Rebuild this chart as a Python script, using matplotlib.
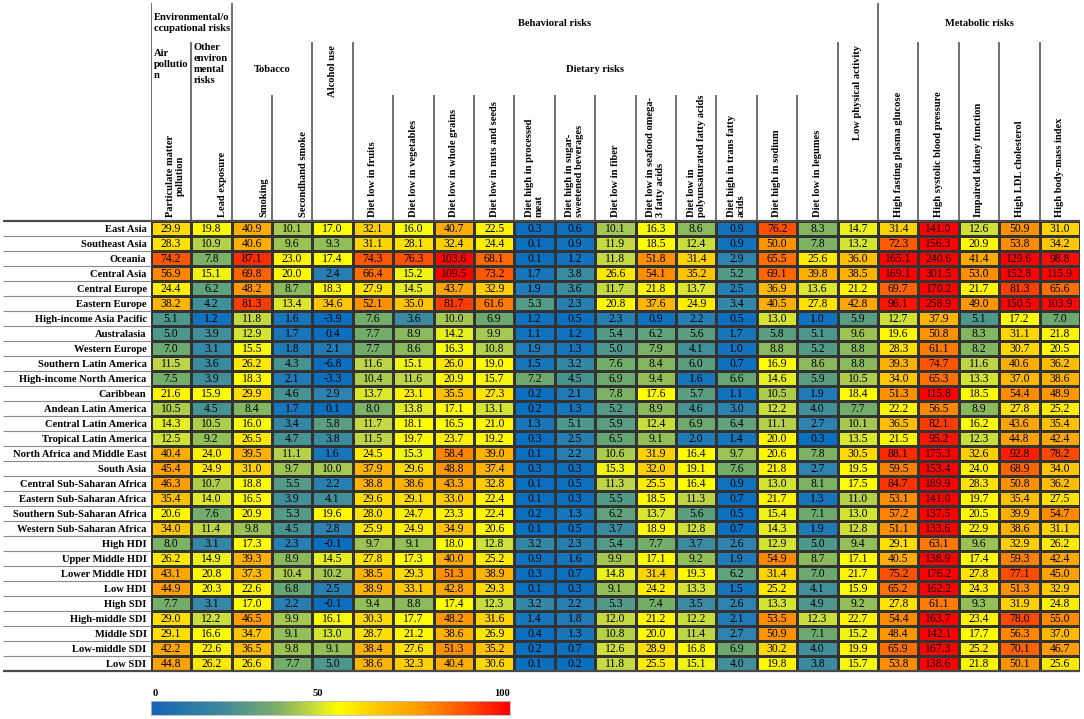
import numpy as np
import matplotlib
matplotlib.use("Agg")
import matplotlib.pyplot as plt
from matplotlib.colors import LinearSegmentedColormap, Normalize

plt.rcParams['font.family'] = ['Liberation Serif', 'DejaVu Serif']

# ---- data -------------------------------------------------------------
regions = [
    "East Asia", "Southeast Asia", "Oceania", "Central Asia", "Central Europe",
    "Eastern Europe", "High-income Asia Pacific", "Australasia", "Western Europe",
    "Southern Latin America", "High-income North America", "Caribbean",
    "Andean Latin America", "Central Latin America", "Tropical Latin America",
    "North Africa and Middle East", "South Asia", "Central Sub-Saharan Africa",
    "Eastern Sub-Saharan Africa", "Southern Sub-Saharan Africa",
    "Western Sub-Saharan Africa", "High HDI", "Upper Middle HDI", "Lower Middle HDI",
    "Low HDI", "High SDI", "High-middle SDI", "Middle SDI", "Low-middle SDI", "Low SDI",
]

risks = [
    "Particulate matter\npollution", "Lead exposure", "Smoking", "Secondhand smoke",
    "", "Diet low in fruits", "Diet low in vegetables", "Diet low in whole grains",
    "Diet low in nuts and seeds", "Diet high in processed\nmeat",
    "Diet high in sugar-\nsweetened beverages", "Diet low in fiber",
    "Diet low in seafood omega-\n3 fatty acids", "Diet low in\npolyunsaturated fatty acids",
    "Diet high in trans fatty\nacids", "Diet high in sodium", "Diet low in legumes", "",
    "High fasting plasma glucose", "High systolic blood pressure",
    "Impaired kidney function", "High LDL cholesterol", "High body-mass index",
]

values = [
    [29.9, 19.8, 40.9, 10.1, 17.0, 32.1, 16.0, 40.7, 22.5, 0.3, 0.6, 10.1, 16.3, 8.6, 0.9, 76.2, 8.3, 14.7, 31.4, 141.0, 12.6, 50.9, 31.0],
    [28.3, 10.9, 40.6, 9.6, 9.3, 31.1, 28.1, 32.4, 24.4, 0.1, 0.9, 11.9, 18.5, 12.4, 0.9, 50.0, 7.8, 13.2, 72.3, 156.3, 20.9, 53.8, 34.2],
    [74.2, 7.8, 87.1, 23.0, 17.4, 74.3, 76.3, 103.6, 68.1, 0.1, 1.2, 11.8, 51.8, 31.4, 2.9, 65.5, 25.6, 36.0, 165.1, 240.6, 41.4, 129.6, 98.8],
    [56.9, 15.1, 69.8, 20.0, 2.4, 66.4, 15.2, 109.5, 73.2, 1.7, 3.8, 26.6, 54.1, 35.2, 5.2, 69.1, 39.8, 38.5, 169.1, 301.5, 53.0, 152.8, 115.9],
    [24.4, 6.2, 48.2, 8.7, 18.3, 27.9, 14.5, 43.7, 32.9, 1.9, 3.6, 11.7, 21.8, 13.7, 2.5, 36.9, 13.6, 21.2, 69.7, 170.2, 21.7, 81.3, 65.6],
    [38.2, 4.2, 81.3, 13.4, 34.6, 52.1, 35.0, 81.7, 61.6, 5.3, 2.3, 20.8, 37.6, 24.9, 3.4, 40.5, 27.8, 42.8, 96.1, 258.9, 49.0, 150.5, 103.9],
    [5.1, 1.2, 11.8, 1.6, -3.9, 7.6, 3.6, 10.0, 6.9, 1.2, 0.5, 2.3, 0.9, 2.2, 0.5, 13.0, 1.0, 5.9, 12.7, 37.9, 5.1, 17.2, 7.0],
    [5.0, 3.9, 12.9, 1.7, 0.4, 7.7, 8.9, 14.2, 9.9, 1.1, 1.2, 5.4, 6.2, 5.6, 1.7, 5.8, 5.1, 9.6, 19.6, 50.8, 8.3, 31.1, 21.8],
    [7.0, 3.1, 15.5, 1.8, 2.1, 7.7, 8.6, 16.3, 10.8, 1.9, 1.3, 5.0, 7.9, 4.1, 1.0, 8.8, 5.2, 8.8, 28.3, 61.1, 8.2, 30.7, 20.5],
    [11.5, 3.6, 26.2, 4.3, -6.8, 11.6, 15.1, 26.0, 19.0, 1.5, 3.2, 7.6, 8.4, 6.0, 0.7, 16.9, 8.6, 8.8, 39.3, 74.7, 11.6, 40.6, 36.2],
    [7.5, 3.9, 18.3, 2.1, -3.3, 10.4, 11.6, 20.9, 15.7, 7.2, 4.5, 6.9, 9.4, 1.6, 6.6, 14.6, 5.9, 10.5, 34.0, 65.3, 13.3, 37.0, 38.6],
    [21.6, 15.9, 29.9, 4.6, 2.9, 13.7, 23.1, 35.5, 27.3, 0.2, 2.1, 7.8, 17.6, 5.7, 1.1, 10.5, 1.9, 18.4, 51.3, 115.8, 18.5, 54.4, 48.9],
    [10.5, 4.5, 8.4, 1.7, 0.1, 8.0, 13.8, 17.1, 13.1, 0.2, 1.3, 5.2, 8.9, 4.6, 3.0, 12.2, 4.0, 7.7, 22.2, 56.5, 8.9, 27.8, 25.2],
    [14.3, 10.5, 16.0, 3.4, 5.8, 11.7, 18.1, 16.5, 21.0, 1.3, 5.1, 5.9, 12.4, 6.9, 6.4, 11.1, 2.7, 10.1, 36.5, 82.1, 16.2, 43.6, 35.4],
    [12.5, 9.2, 26.5, 4.7, 3.8, 11.5, 19.7, 23.7, 19.2, 0.3, 2.5, 6.5, 9.1, 2.0, 1.4, 20.0, 0.3, 13.5, 21.5, 95.2, 12.3, 44.8, 42.4],
    [40.4, 24.0, 39.5, 11.1, 1.6, 24.5, 15.3, 58.4, 39.0, 0.1, 2.2, 10.6, 31.9, 16.4, 9.7, 20.6, 7.8, 30.5, 88.1, 175.3, 32.6, 92.8, 78.2],
    [45.4, 24.9, 31.0, 9.7, 10.0, 37.9, 29.6, 48.8, 37.4, 0.3, 0.3, 15.3, 32.0, 19.1, 7.6, 21.8, 2.7, 19.5, 59.5, 153.4, 24.0, 68.9, 34.0],
    [46.3, 10.7, 18.8, 5.5, 2.2, 38.8, 38.6, 43.3, 32.8, 0.1, 0.5, 11.3, 25.5, 16.4, 0.9, 13.0, 8.1, 17.5, 84.7, 189.9, 28.3, 50.8, 36.2],
    [35.4, 14.0, 16.5, 3.9, 4.1, 29.6, 29.1, 33.0, 22.4, 0.1, 0.3, 5.5, 18.5, 11.3, 0.7, 21.7, 1.3, 11.0, 53.1, 141.0, 19.7, 35.4, 27.5],
    [20.6, 7.6, 20.9, 5.3, 19.6, 28.0, 24.7, 23.3, 22.4, 0.2, 1.3, 6.2, 13.7, 5.6, 0.5, 15.4, 7.1, 13.0, 57.2, 137.5, 20.5, 39.9, 54.7],
    [34.0, 11.4, 9.8, 4.5, 2.8, 25.9, 24.9, 34.9, 20.6, 0.1, 0.5, 3.7, 18.9, 12.8, 0.7, 14.3, 1.9, 12.8, 51.1, 133.6, 22.9, 38.6, 31.1],
    [8.0, 3.1, 17.3, 2.3, -0.1, 9.7, 9.1, 18.0, 12.8, 3.2, 2.3, 5.4, 7.7, 3.7, 2.6, 12.9, 5.0, 9.4, 29.1, 63.1, 9.6, 32.9, 26.2],
    [26.2, 14.9, 39.3, 8.9, 14.5, 27.8, 17.3, 40.0, 25.2, 0.9, 1.6, 9.9, 17.1, 9.2, 1.9, 54.9, 8.7, 17.1, 40.5, 138.9, 17.4, 59.3, 42.4],
    [43.1, 20.8, 37.3, 10.4, 10.2, 38.5, 29.3, 51.3, 38.9, 0.3, 0.7, 14.8, 31.4, 19.3, 6.2, 31.4, 7.0, 21.7, 75.2, 176.2, 27.8, 77.1, 45.0],
    [44.9, 20.3, 22.6, 6.8, 2.5, 38.9, 33.1, 42.8, 29.3, 0.1, 0.3, 9.1, 24.2, 13.3, 1.5, 25.2, 4.1, 15.9, 65.2, 162.2, 24.3, 51.3, 32.9],
    [7.7, 3.1, 17.0, 2.2, -0.1, 9.4, 8.8, 17.4, 12.3, 3.2, 2.2, 5.3, 7.4, 3.5, 2.6, 13.3, 4.9, 9.2, 27.8, 61.1, 9.3, 31.9, 24.8],
    [29.0, 12.2, 46.5, 9.9, 16.1, 30.3, 17.7, 48.2, 31.6, 1.4, 1.8, 12.0, 21.2, 12.2, 2.1, 53.5, 12.3, 22.7, 54.4, 163.7, 23.4, 78.0, 55.0],
    [29.1, 16.6, 34.7, 9.1, 13.0, 28.7, 21.2, 38.6, 26.9, 0.4, 1.3, 10.8, 20.0, 11.4, 2.7, 50.9, 7.1, 15.2, 48.4, 142.1, 17.7, 56.3, 37.0],
    [42.2, 22.6, 36.5, 9.8, 9.1, 38.4, 27.6, 51.3, 35.2, 0.2, 0.7, 12.6, 28.9, 16.8, 6.9, 30.2, 4.0, 19.9, 65.9, 167.3, 25.2, 70.1, 46.7],
    [44.8, 26.2, 26.6, 7.7, 5.0, 38.6, 32.3, 40.4, 30.6, 0.1, 0.2, 11.8, 25.5, 15.1, 4.0, 19.8, 3.8, 15.7, 53.8, 138.6, 21.8, 50.1, 25.6],
]
values = np.array(values)
n_rows, n_cols = values.shape

# cell colours: blue -> green -> yellow -> orange -> red
anchors = [(0, '#0A6FBF'), (1.0, '#1272BD'), (2.5, '#2C82AE'), (4.5, '#4A958F'),
           (7, '#6DAA6E'), (9, '#92BE58'), (11.5, '#C2D844'), (14, '#E2EC26'),
           (16.5, '#FFFF00'), (23, '#FFF200'), (30, '#FFDA00'), (38, '#FFB400'),
           (48, '#FF9800'), (60, '#FF8000'), (72, '#FF5E00'), (85, '#FF3200'),
           (100, '#FF0A00'), (110, '#FF0000')]
vmax = anchors[-1][0]
cell_cmap = LinearSegmentedColormap.from_list('cells', [(v / vmax, c) for v, c in anchors])
norm = Normalize(0, vmax, clip=True)

bar_cmap = LinearSegmentedColormap.from_list('bar', [
    (0.0, '#1466B8'), (0.2, '#3F8A9C'), (0.35, '#7DAE68'), (0.45, '#C6DB3A'),
    (0.52, '#FFFF00'), (0.62, '#FFCC00'), (0.75, '#FF9A00'), (0.88, '#FF5000'), (1.0, '#FF0000')])

# ---- figure -----------------------------------------------------------
W, H = 1084, 719
fig = plt.figure(figsize=(W / 100, H / 100), dpi=100)
fig.patch.set_facecolor('white')

x_left, x_right = 150.7, 1080
y_top, y_bot = 221, 671
col_w = (x_right - x_left) / n_cols
label_start = -(x_left - 3) / col_w

tab = fig.add_axes([x_left / W, 1 - y_bot / H, (x_right - x_left) / W, (y_bot - y_top) / H])
tab.pcolormesh(values, cmap=cell_cmap, norm=norm, edgecolors='#333333', linewidth=0.9)
tab.set_xlim(0, n_cols)
tab.set_ylim(n_rows, 0)
for i in range(n_rows):
    for j in range(n_cols):
        tab.text(j + 0.5, i + 0.55, f"{values[i, j]:.1f}", ha='center', va='center',
                 fontsize=8.4, color='black')
tab.set_xticks([])
tab.set_yticks(np.arange(n_rows) + 0.5, regions, fontweight='bold', fontsize=7.6)
tab.tick_params(length=0, pad=3)
for s in tab.spines.values():
    s.set_visible(False)
tab.hlines(np.arange(1, n_rows), label_start, 0, colors='#8a8a8a', lw=0.8, clip_on=False)
tab.hlines([0, n_rows], label_start, n_cols, colors='#4a4a4a', lw=1.6, clip_on=False)

# ---- header -----------------------------------------------------------
hdr = fig.add_axes([x_left / W, 1 - y_top / H, (x_right - x_left) / W, y_top / H])
hdr.set_xlim(0, n_cols)
hdr.set_ylim(y_top, 0)
hdr.axis('off')

hdr.vlines([0, 2, 18], 3, y_top, colors='#4a4a4a', lw=1.1)
hdr.vlines([1, 4, 5, 17, 19, 20, 21, 22], 42, y_top, colors='#4a4a4a', lw=1.1)
hdr.vlines([3] + list(range(6, 17)), 95, y_top, colors='#4a4a4a', lw=1.1)

bold = dict(fontweight='bold', fontsize=7.6)
hdr.text(0.07, 23, "Environmental/o\nccupational risks", ha='left', va='center', linespacing=1.2, **bold)
hdr.text(10, 23, "Behavioral risks", ha='center', va='center', **bold)
hdr.text(20.5, 23, "Metabolic risks", ha='center', va='center', **bold)
hdr.text(0.07, 49, "Air\npollutio\nn", ha='left', va='top', linespacing=1.3, **bold)
hdr.text(1.07, 43, "Other\nenviron\nmental\nrisks", ha='left', va='top', linespacing=1.3, **bold)
hdr.text(3, 69, "Tobacco", ha='center', va='center', **bold)
hdr.text(11, 69, "Dietary risks", ha='center', va='center', **bold)
hdr.text(4.5, 45, "Alcohol use", rotation=90, ha='center', va='top', **bold)
hdr.text(17.5, 45, "Low physical activity", rotation=90, ha='center', va='top', **bold)

shift = {0: 0.12, 1: 0.27, 2: 0.3, 3: 0.27}
for j, name in enumerate(risks):
    if not name:
        continue
    hdr.text(j + 0.5 + shift.get(j, 0), 217, name, rotation=90, ha='center', va='bottom',
             multialignment='center' if j == 0 else 'left', linespacing=1.15, **bold)

# ---- colour bar -------------------------------------------------------
cb = fig.add_axes([151 / W, 1 - 715 / H, (510 - 151) / W, 14 / H])
cb.imshow(np.linspace(0, 1, 256)[None, :], aspect='auto', cmap=bar_cmap, extent=[0, 100, 0, 1])
cb.set_xticks([])
cb.set_yticks([])
for s in cb.spines.values():
    s.set_color('#bbbbbb')
    s.set_linewidth(0.6)
cb.text(0.5, 1.55, "0", ha='left', va='center', **bold)
cb.text(46.5, 1.55, "50", ha='center', va='center', **bold)
cb.text(100, 1.55, "100", ha='right', va='center', **bold)

fig.savefig("out.png", dpi=100)
